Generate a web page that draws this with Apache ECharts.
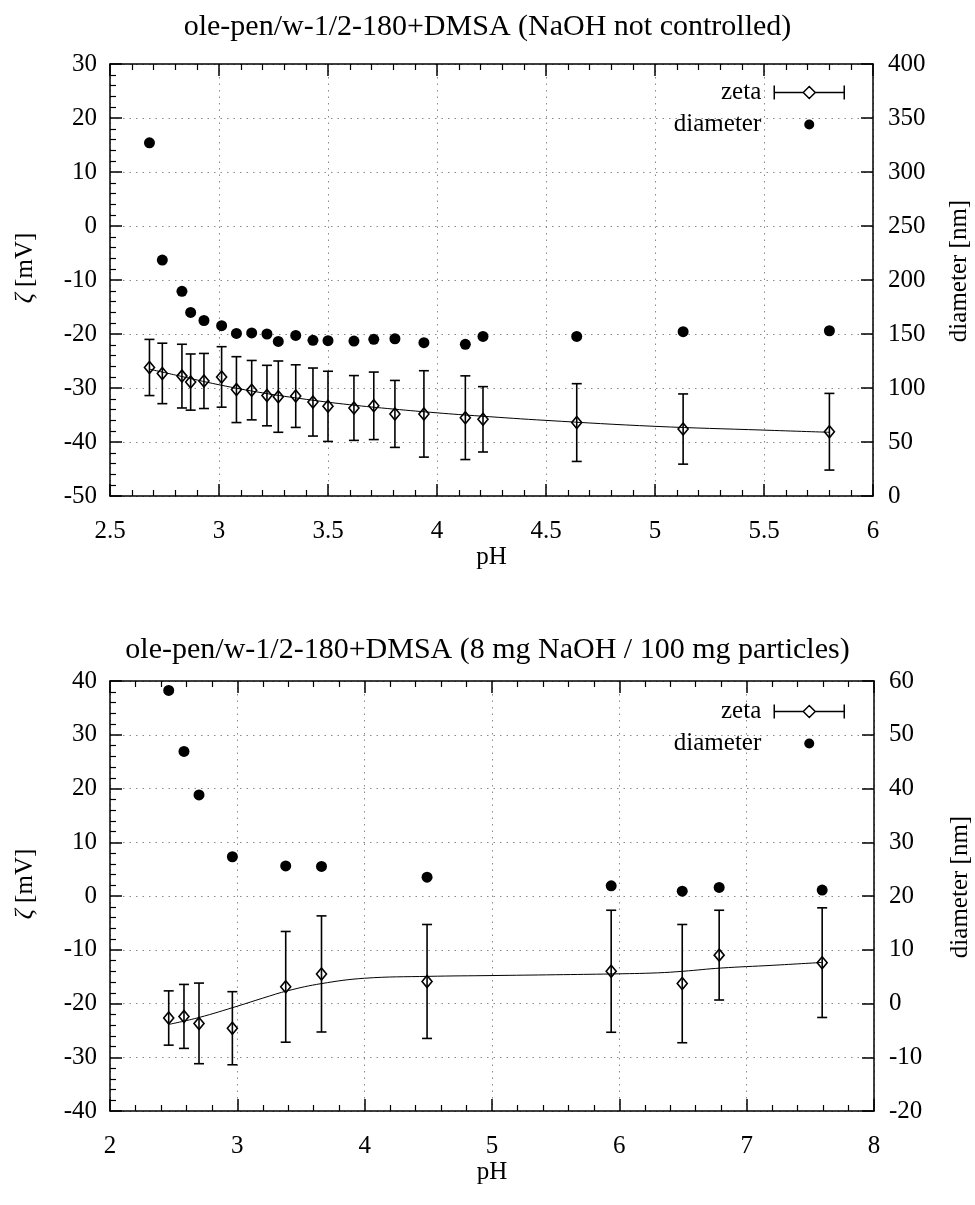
<!DOCTYPE html>
<html><head><meta charset="utf-8">
<script src="https://cdn.jsdelivr.net/npm/echarts@6/dist/echarts.min.js"></script>
<style>html,body{margin:0;padding:0;background:#fff}#c{width:975px;height:1205px}</style>
</head><body><div id="c"></div>
<script>
// ---------- DATA ----------
// Top chart: NaOH not controlled
const ph1 = [2.681, 2.740, 2.830, 2.870, 2.931, 3.012, 3.080, 3.150, 3.220, 3.272, 3.352, 3.431, 3.500, 3.619, 3.710, 3.807, 3.940, 4.130, 4.211, 4.641, 5.129, 5.800];
const zeta1 = [-26.2, -27.3, -27.8, -28.9, -28.7, -27.95, -30.3, -30.4, -31.4, -31.6, -31.5, -32.6, -33.4, -33.7, -33.3, -34.8, -34.8, -35.5, -35.8, -36.4, -37.6, -38.1];
const err1 = [5.2, 5.6, 5.9, 5.2, 5.1, 5.6, 6.1, 5.5, 5.6, 6.6, 5.8, 6.3, 6.5, 6.0, 6.25, 6.2, 8.0, 7.75, 6.05, 7.2, 6.5, 7.1];
const diam1 = [327, 218.5, 189.5, 170, 162.5, 157.7, 150.5, 151, 150, 143.1, 148.7, 144.1, 143.8, 143.5, 145.1, 145.6, 142, 140.4, 147.8, 147.8, 152.1, 153];
const fitPH1 = [2.68, 2.8, 3.0, 3.2, 3.4, 3.6, 3.8, 4.0, 4.2, 4.5, 5.0, 5.5, 5.8];
const fitZ1 = [-26.5, -27.6, -29.4, -30.9, -32.1, -33.1, -33.9, -34.6, -35.2, -36.0, -37.1, -37.8, -38.2];

// Bottom chart: 8 mg NaOH / 100 mg particles
const ph2 = [2.461, 2.581, 2.699, 2.961, 3.380, 3.661, 4.490, 5.936, 6.494, 6.784, 7.593];
const zeta2 = [-22.7, -22.4, -23.7, -24.6, -16.9, -14.5, -15.9, -14.0, -16.3, -11.0, -12.4];
const err2 = [5.05, 5.95, 7.5, 6.8, 10.3, 10.8, 10.6, 11.35, 11.0, 8.35, 10.2];
const diam2 = [58.25, 46.9, 38.8, 27.3, 25.6, 25.5, 23.5, 21.9, 20.9, 21.6, 21.1];
const fitPH2 = [2.46, 2.7, 3.0, 3.2, 3.4, 3.66, 4.0, 4.5, 5.0, 5.5, 5.94, 6.3, 6.5, 6.8, 7.2, 7.6];
const fitZ2 = [-23.9, -22.6, -20.5, -19.0, -17.6, -16.3, -15.3, -14.95, -14.8, -14.65, -14.5, -14.3, -14.0, -13.4, -12.9, -12.35];

const titles = ['ole-pen/w-1/2-180+DMSA (NaOH not controlled)', 'ole-pen/w-1/2-180+DMSA (8 mg NaOH / 100 mg particles)'];
const xName = 'pH';
const yName = '{i|ζ} [mV]';
const y2Name = 'diameter [nm]';
const legendNames = ['zeta', 'diameter'];

// ---------- STYLE ----------
const FF = 'Liberation Serif';
const FS = 25;
const black = '#000';

function xAxesFor(grid, min, max, interval) {
  const common = {
    type: 'value', gridIndex: grid, min, max, interval,
    axisLine: {show: true, onZero: false, lineStyle: {color: black, width: 1.5}},
    axisTick: {show: true, inside: true, length: 12, lineStyle: {color: black, width: 1.5}},
    minorTick: {show: true, splitNumber: 5, length: 6, lineStyle: {color: black, width: 1.2}},
  };
  return [
    Object.assign({}, common, {
      position: 'bottom',
      axisLabel: {margin: 23, fontFamily: FF, fontSize: FS, color: black},
      splitLine: {show: true, lineStyle: {type: [1.5, 5], color: '#8a8a8a', width: 1}},
      name: xName, nameLocation: 'middle', nameGap: 38,
      nameTextStyle: {fontFamily: FF, fontSize: FS, color: black}
    }),
    Object.assign({}, common, {
      position: 'top',
      axisLabel: {show: false}, splitLine: {show: false}
    })
  ];
}
function yAxesFor(grid, min, max, interval, min2, max2, interval2) {
  return [
    {
      type: 'value', gridIndex: grid, position: 'left', min, max, interval,
      axisLine: {show: true, onZero: false, lineStyle: {color: black, width: 1.5}},
      axisTick: {show: true, inside: true, length: 12, lineStyle: {color: black, width: 1.5}},
      minorTick: {show: true, splitNumber: 5, length: 6, lineStyle: {color: black, width: 1.2}},
      axisLabel: {margin: 13, fontFamily: FF, fontSize: FS, color: black},
      splitLine: {show: true, lineStyle: {type: [1.5, 5], color: '#8a8a8a', width: 1}},
      name: yName, nameLocation: 'middle', nameGap: 72, nameRotate: 90,
      nameTextStyle: {fontFamily: FF, fontSize: FS, color: black, padding: [0, 0, 0, 24],
        rich: {i: {fontFamily: FF, fontSize: FS, fontStyle: 'italic', color: black}}}
    },
    {
      type: 'value', gridIndex: grid, position: 'right', min: min2, max: max2, interval: interval2,
      axisLine: {show: true, onZero: false, lineStyle: {color: black, width: 1.5}},
      axisTick: {show: true, inside: true, length: 12, lineStyle: {color: black, width: 1.5}},
      minorTick: {show: false},
      axisLabel: {margin: 15, fontFamily: FF, fontSize: FS, color: black},
      splitLine: {show: false},
      name: y2Name, nameLocation: 'middle', nameGap: 74, nameRotate: 90,
      nameTextStyle: {fontFamily: FF, fontSize: FS, color: black, padding: [0, 0, 0, 18]}
    }
  ];
}

function errRender(params, api) {
  const x = api.value(0), y = api.value(1), e = api.value(2);
  const p = api.coord([x, y]);
  const t = api.coord([x, y + e]);
  const b = api.coord([x, y - e]);
  const cw = 5, dw = 5, dh = 6;
  const s = {stroke: black, lineWidth: 1.6, fill: null};
  return {
    type: 'group', children: [
      {type: 'line', shape: {x1: p[0], y1: t[1], x2: p[0], y2: b[1]}, style: s},
      {type: 'line', shape: {x1: p[0] - cw, y1: t[1], x2: p[0] + cw, y2: t[1]}, style: s},
      {type: 'line', shape: {x1: p[0] - cw, y1: b[1], x2: p[0] + cw, y2: b[1]}, style: s},
      {type: 'polygon', shape: {points: [[p[0], p[1] - dh], [p[0] + dw, p[1]], [p[0], p[1] + dh], [p[0] - dw, p[1]]]},
       style: {fill: null, stroke: black, lineWidth: 1.6}}
    ]
  };
}

const ZETA_ICON = 'path://M0,0 L0,14 M0,7 L30,7 M40,7 L70,7 M70,0 L70,14 M35,1 L41,7 L35,13 L29,7 Z';
const DOT_ICON = 'path://M0,0 M70,14 M30,7 A5,5 0 1 1 40,7 A5,5 0 1 1 30,7 Z';

function legendFor(top) {
  return {
    orient: 'vertical', right: 130, top, align: 'right', padding: 0,
    itemWidth: 70, itemHeight: 14, itemGap: 7, selectedMode: false,
    textStyle: {fontFamily: FF, fontSize: FS, color: black, padding: [0, 8, 0, 0]},
    data: [
      {name: legendNames[0], icon: ZETA_ICON, itemStyle: {color: '#fff', borderColor: black, borderWidth: 1.5}},
      {name: legendNames[1], icon: DOT_ICON, itemStyle: {color: black, borderWidth: 0}}
    ]
  };
}

const option = {
  animation: false,
  backgroundColor: '#fff',
  title: [
    {text: titles[0], left: 'center', top: 12, padding: 0,
     textStyle: {fontFamily: FF, fontSize: 30, fontWeight: 'normal', color: black}},
    {text: titles[1], left: 'center', top: 635, padding: 0,
     textStyle: {fontFamily: FF, fontSize: 30, fontWeight: 'normal', color: black}}
  ],
  grid: [
    {left: 110, right: 102, top: 64, height: 432, outerBoundsMode: 'none', containLabel: false},
    {left: 110, right: 101, top: 681, height: 430, outerBoundsMode: 'none', containLabel: false}
  ],
  legend: [legendFor(80), legendFor(699)],
  xAxis: [].concat(xAxesFor(0, 2.5, 6, 0.5), xAxesFor(1, 2, 8, 1)),
  yAxis: [].concat(yAxesFor(0, -50, 30, 10, 0, 400, 50), yAxesFor(1, -40, 40, 10, -20, 60, 10)),
  series: [
    {type: 'line', xAxisIndex: 0, yAxisIndex: 0, smooth: 0.4, showSymbol: false, symbol: 'none',
     lineStyle: {color: black, width: 1}, data: fitPH1.map((x, i) => [x, fitZ1[i]]), z: 2},
    {name: 'zeta', type: 'custom', xAxisIndex: 0, yAxisIndex: 0, renderItem: errRender,
     encode: {x: 0, y: 1}, itemStyle: {color: black},
     data: ph1.map((x, i) => [x, zeta1[i], err1[i]]), z: 3},
    {name: 'diameter', type: 'scatter', xAxisIndex: 0, yAxisIndex: 1, symbol: 'circle', symbolSize: 11,
     itemStyle: {color: black, opacity: 1}, data: ph1.map((x, i) => [x, diam1[i]]), z: 4},

    {type: 'line', xAxisIndex: 2, yAxisIndex: 2, smooth: 0.4, showSymbol: false, symbol: 'none',
     lineStyle: {color: black, width: 1}, data: fitPH2.map((x, i) => [x, fitZ2[i]]), z: 2},
    {name: 'zeta', type: 'custom', xAxisIndex: 2, yAxisIndex: 2, renderItem: errRender,
     encode: {x: 0, y: 1}, itemStyle: {color: black},
     data: ph2.map((x, i) => [x, zeta2[i], err2[i]]), z: 3},
    {name: 'diameter', type: 'scatter', xAxisIndex: 2, yAxisIndex: 3, symbol: 'circle', symbolSize: 11,
     itemStyle: {color: black, opacity: 1}, data: ph2.map((x, i) => [x, diam2[i]]), z: 4}
  ]
};

const chart = echarts.init(document.getElementById('c'), null, {renderer: 'canvas'});
chart.setOption(option);
</script>
</body></html>
